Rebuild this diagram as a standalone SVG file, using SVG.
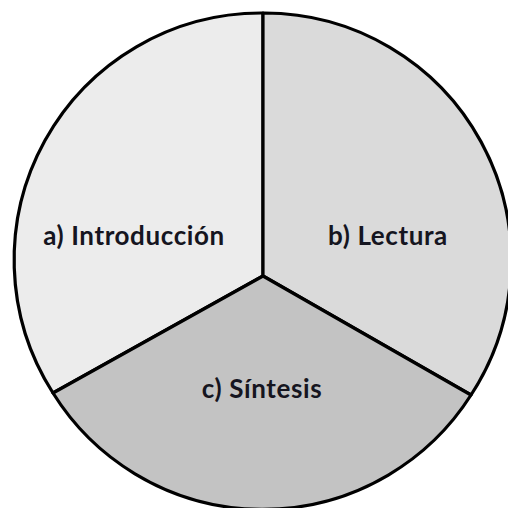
<svg xmlns="http://www.w3.org/2000/svg" width="508" height="508" viewBox="0 0 508 508">
<style>
.seg{stroke:#000;stroke-width:3.2;stroke-linejoin:round}
.lbl{font-family:Lato,"Open Sans",sans-serif;font-weight:bold;font-size:26px;letter-spacing:0.6px;fill:#151520;text-anchor:middle}
</style>
<rect width="508" height="508" fill="#fff"/>
<g id="introduccion">
<path class="seg" fill="#ececec" d="M263,276 L263,13 A247,247 0 0 0 53,393 Z"/>
<text class="lbl" x="134" y="245">a) Introducción</text>
</g>
<g id="lectura">
<path class="seg" fill="#dadada" d="M263,276 L263,13 A247,247 0 0 1 471,395 Z"/>
<text class="lbl" x="388" y="245">b) Lectura</text>
</g>
<g id="sintesis">
<path class="seg" fill="#c3c3c3" d="M263,276 L471,395 A247,247 0 0 1 53,393 Z"/>
<text class="lbl" x="262" y="398">c) Síntesis</text>
</g>
<g id="connectors"></g>
</svg>
